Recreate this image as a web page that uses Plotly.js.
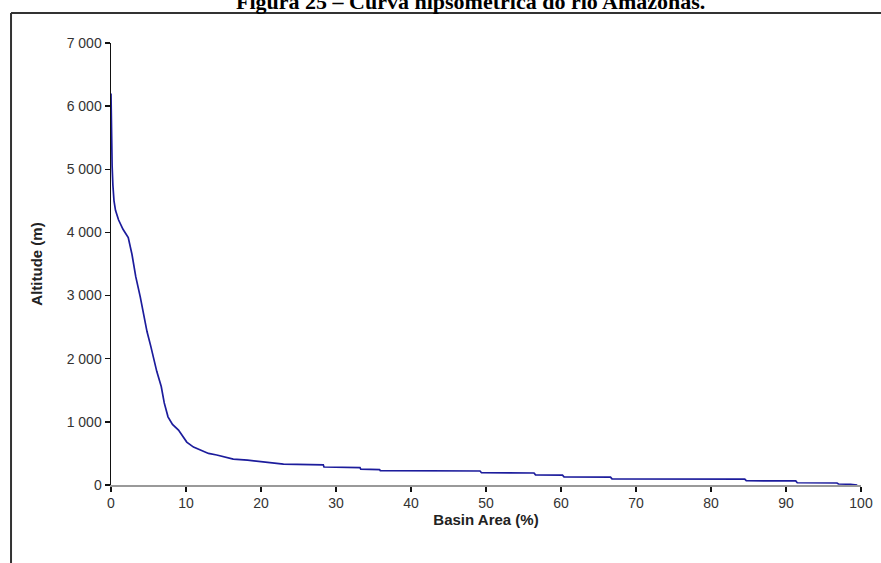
<!DOCTYPE html>
<html>
<head>
<meta charset="utf-8">
<script src="https://cdn.plot.ly/plotly-3.0.1.min.js"></script>
<style>
html,body{margin:0;padding:0;background:#fff;}
#chart{width:881px;height:563px;}
</style>
</head>
<body>
<div id="chart"></div>
<script>
// Hypsometric curve: basin area (%) vs altitude (m)
const basinArea = [0, 0.05, 0.15, 0.25, 0.4, 0.6, 1.0, 1.6, 2.3, 2.8, 3.3, 3.9, 4.4, 4.8, 5.3, 5.6, 6.1, 6.7, 7.1, 7.6, 8.2, 9.0, 9.6, 10.1, 11.0, 12.0, 13.0, 14.1, 15.5, 16.3, 18.2, 20.0, 22.0, 23.0, 28.3, 28.4, 33.2, 33.3, 35.8, 35.9, 49.2, 49.4, 56.4, 56.6, 60.2, 60.4, 66.6, 66.8, 84.5, 84.7, 91.3, 91.5, 96.8, 97.0, 98.6, 99.5];
const altitude = [6200, 5100, 5050, 4750, 4500, 4350, 4200, 4050, 3920, 3650, 3300, 2980, 2650, 2430, 2200, 2030, 1800, 1560, 1300, 1080, 960, 870, 760, 680, 600, 550, 500, 475, 430, 410, 395, 370, 350, 330, 320, 285, 275, 250, 245, 228, 222, 195, 190, 160, 155, 130, 125, 97, 92, 68, 64, 36, 32, 16, 12, 0];

const xTickVals = [0, 10, 20, 30, 40, 50, 60, 70, 80, 90, 100];
const xTickText = ["0", "10", "20", "30", "40", "50", "60", "70", "80", "90", "100"];
const yTickVals = [0, 1000, 2000, 3000, 4000, 5000, 6000, 7000];
const yTickText = ["0", "1 000", "2 000", "3 000", "4 000", "5 000", "6 000", "7 000"];

const figureTitle = "Figura 25 – Curva hipsométrica do rio Amazonas.";
const xTitle = "Basin Area (%)";
const yTitle = "Altitude (m)";

const trace = {
  x: basinArea,
  y: altitude,
  type: 'scatter',
  mode: 'lines',
  line: {color: '#1c1c9c', width: 1.7, shape: 'linear'},
  cliponaxis: false,
  hoverinfo: 'skip'
};

const layout = {
  width: 881,
  height: 563,
  margin: {l: 111, r: 20, t: 43, b: 78, pad: 0},
  paper_bgcolor: '#ffffff',
  plot_bgcolor: '#ffffff',
  showlegend: false,
  font: {family: 'Liberation Sans, Arial, sans-serif', size: 14, color: '#333'},
  xaxis: {
    range: [0, 100],
    tickvals: xTickVals,
    ticktext: xTickText,
    ticks: 'outside',
    ticklen: 5,
    tickwidth: 1.3,
    tickcolor: '#111',
    showline: true,
    linecolor: '#999',
    linewidth: 1.5,
    showgrid: false,
    zeroline: false,
    tickfont: {size: 14, color: '#333'},
    title: {text: xTitle, font: {size: 15, color: '#222', weight: 'bold'}, standoff: 0}
  },
  yaxis: {
    range: [0, 7000],
    tickvals: yTickVals,
    ticktext: yTickText,
    ticks: 'outside',
    ticklen: 5,
    tickwidth: 1.3,
    tickcolor: '#111',
    showline: true,
    linecolor: '#111',
    linewidth: 1.5,
    showgrid: false,
    zeroline: false,
    tickfont: {size: 14, color: '#333'},
    title: {text: yTitle, font: {size: 15, color: '#222', weight: 'bold'}, standoff: 20}
  },
  annotations: [{
    text: '<b>' + figureTitle + '</b>',
    xref: 'paper', yref: 'paper',
    x: 0.4787, y: 1.095,
    xanchor: 'center', yanchor: 'middle',
    showarrow: false,
    font: {family: 'Liberation Serif, Times New Roman, serif', size: 22, color: '#000'}
  }],
  shapes: [
    {type: 'line', xref: 'paper', yref: 'paper', x0: -0.1333, x1: 1.04, y0: 1.0679, y1: 1.0679,
     line: {color: '#333', width: 2}},
    {type: 'line', xref: 'paper', yref: 'paper', x0: -0.1333, x1: -0.1333, y0: 1.0679, y1: -0.2,
     line: {color: '#333', width: 2}}
  ]
};

Plotly.newPlot('chart', [trace], layout, {displayModeBar: false, staticPlot: true});
</script>
</body>
</html>
